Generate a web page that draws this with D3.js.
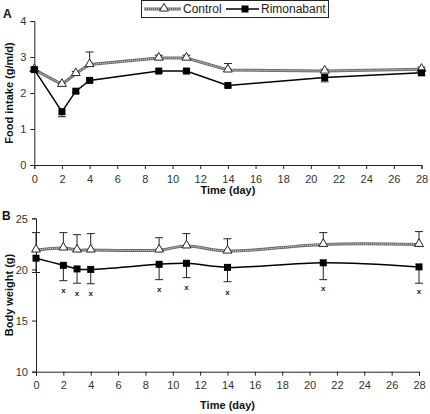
<!DOCTYPE html>
<html><head><meta charset="utf-8">
<script src="https://cdn.jsdelivr.net/npm/d3@7"></script>
<style>body{margin:0;background:#fff}svg{display:block}text{font-family:"Liberation Sans",Arial,sans-serif}</style>
</head><body>
<svg id="c" width="430" height="414"></svg>
<script>
const days = [0, 2, 3, 4, 9, 11, 14, 21, 28];
const xTicks = [0,2,4,6,8,10,12,14,16,18,20,22,24,26,28];
// Panel A: food intake (g/m/d)
const foodControl = [2.65, 2.24, 2.54, 2.79, 2.97, 2.97, 2.64, 2.61, 2.66];
const foodControlUp = [2.70, 2.30, 2.60, 3.14, 3.05, 3.05, 2.82, 2.66, 2.72];
const foodRimo = [2.65, 1.48, 2.05, 2.35, 2.61, 2.61, 2.21, 2.43, 2.56];
const foodRimoLow = [2.60, 1.34, 2.00, 2.30, 2.57, 2.57, 2.17, 2.31, 2.50];
const foodTicks = [0, 1, 2, 3, 4];
// Panel B: body weight (g)
const bwControl = [21.9, 22.1, 21.9, 21.9, 21.9, 22.3, 21.8, 22.45, 22.45];
const bwControlUp = [23.6, 23.6, 23.4, 23.5, 23.1, 23.5, 23.0, 23.6, 23.7];
const bwRimo = [21.1, 20.4, 20.05, 20.0, 20.5, 20.6, 20.2, 20.65, 20.25];
const bwRimoLow = [19.7, 18.9, 18.65, 18.6, 19.0, 19.2, 18.8, 19.0, 18.65];
const sigDays = [2, 3, 4, 9, 11, 14, 21, 28];
const sigPos = [17.9, 17.6, 17.6, 18.0, 18.2, 17.7, 18.15, 17.8];
const bwTicks = [10, 15, 20, 25];
const seriesNames = ["Control", "Rimonabant"];

const svg = d3.select("#c");

function panel(o) {
  const x = d3.scaleLinear().domain([0, 28]).range(o.xr);
  const y = d3.scaleLinear().domain(o.yd).range(o.yr);
  const g = svg.append("g");
  const ax = g.append("g").attr("transform", `translate(0,${o.yr[0]})`)
    .call(d3.axisBottom(x).tickValues(xTicks).tickSize(4).tickPadding(6).tickFormat(d3.format("d")));
  const ay = g.append("g").attr("transform", `translate(${o.xr[0]},0)`)
    .call(d3.axisLeft(y).tickValues(o.yticks).tickSize(4).tickPadding(4).tickFormat(d3.format("d")));
  [ax, ay].forEach(a => {
    a.select(".domain").attr("stroke", "#222").attr("stroke-width", 1);
    a.selectAll(".tick line").attr("stroke", "#222");
    a.selectAll(".tick text").attr("fill", "#333").style("font-size", "11px");
  });
  ay.selectAll(".tick text").attr("dy", "0.35em");
  const curve = o.smooth ? d3.curveCatmullRom : d3.curveLinear;
  const line = d3.line().x((d, i) => x(days[i])).y(d => y(d)).curve(curve);
  const cap = 4;
  function errs(vals, ends) {
    vals.forEach((v, i) => {
      const cx = x(days[i]);
      g.append("line").attr("x1", cx).attr("x2", cx).attr("y1", y(v)).attr("y2", y(ends[i])).attr("stroke", "#222").attr("stroke-width", 1);
      g.append("line").attr("x1", cx - cap).attr("x2", cx + cap).attr("y1", y(ends[i])).attr("y2", y(ends[i])).attr("stroke", "#222").attr("stroke-width", 1);
    });
  }
  errs(o.ctrl, o.ctrlUp);
  errs(o.rimo, o.rimoLow);
  g.append("path").attr("d", line(o.ctrl)).attr("fill", "none").attr("stroke", "#6e6e6e").attr("stroke-width", 3);
  g.append("path").attr("d", line(o.ctrl)).attr("fill", "none").attr("stroke", "#d8d8d8").attr("stroke-width", 1).attr("stroke-dasharray", "1,1");
  g.append("path").attr("d", line(o.rimo)).attr("fill", "none").attr("stroke", "#000").attr("stroke-width", 1.5);
  const tri = d3.symbol().type(d3.symbolTriangle).size(34);
  o.ctrl.forEach((v, i) => {
    g.append("path").attr("d", tri()).attr("transform", `translate(${x(days[i])},${y(v) - 0.5})`)
      .attr("fill", "#fff").attr("stroke", "#222").attr("stroke-width", 1);
  });
  o.rimo.forEach((v, i) => {
    g.append("rect").attr("x", x(days[i]) - 3.5).attr("y", y(v) - 3.5).attr("width", 7).attr("height", 7).attr("fill", "#000");
  });
  if (o.sig) {
    sigDays.forEach((d, i) => {
      g.append("text").attr("x", x(d)).attr("y", y(sigPos[i])).attr("dy", "0.3em").attr("text-anchor", "middle")
        .style("font-size", "8px").style("font-weight", "bold").attr("fill", "#222").text("x");
    });
  }
  g.append("text").attr("x", (o.xr[0] + o.xr[1]) / 2).attr("y", o.titleY).attr("text-anchor", "middle")
    .style("font-size", "11px").style("font-weight", "bold").attr("fill", "#111").text("Time (day)");
  g.append("text").attr("transform", `translate(13,${(o.yr[0] + o.yr[1]) / 2}) rotate(-90)`).attr("text-anchor", "middle")
    .style("font-size", "11px").style("font-weight", "bold").attr("fill", "#111").text(o.ytitle);
  g.append("text").attr("x", o.lab[0]).attr("y", o.lab[1]).style("font-size", "12px").style("font-weight", "bold").attr("fill", "#111").text(o.label);
}

panel({xr: [34.3, 421.5], yd: [0, 4], yr: [165, 21], yticks: foodTicks, ctrl: foodControl, ctrlUp: foodControlUp,
  rimo: foodRimo, rimoLow: foodRimoLow, smooth: false, sig: false, titleY: 194, ytitle: "Food intake (g/m/d)", label: "A", lab: [3, 18]});
panel({xr: [36, 419], yd: [10, 25], yr: [371.7, 218.3], yticks: bwTicks, ctrl: bwControl, ctrlUp: bwControlUp,
  rimo: bwRimo, rimoLow: bwRimoLow, smooth: true, sig: true, titleY: 409, ytitle: "Body weight (g)", label: "B", lab: [2, 220]});

const lg = svg.append("g");
lg.append("rect").attr("x", 141.5).attr("y", 0.5).attr("width", 187).attr("height", 17).attr("fill", "#fff").attr("stroke", "#222").attr("stroke-width", 1);
lg.append("line").attr("x1", 144).attr("x2", 181).attr("y1", 9).attr("y2", 9).attr("stroke", "#6e6e6e").attr("stroke-width", 3);
lg.append("line").attr("x1", 144).attr("x2", 181).attr("y1", 9).attr("y2", 9).attr("stroke", "#d8d8d8").attr("stroke-width", 1).attr("stroke-dasharray", "1,1");
lg.append("path").attr("d", d3.symbol().type(d3.symbolTriangle).size(34)()).attr("transform", "translate(164,8.5)").attr("fill", "#fff").attr("stroke", "#222");
lg.append("text").attr("x", 183).attr("y", 13).style("font-size", "12px").attr("fill", "#222").text(seriesNames[0]);
lg.append("line").attr("x1", 226).attr("x2", 259).attr("y1", 9).attr("y2", 9).attr("stroke", "#000").attr("stroke-width", 1.5);
lg.append("rect").attr("x", 241.5).attr("y", 5.5).attr("width", 7).attr("height", 7).attr("fill", "#000");
lg.append("text").attr("x", 261).attr("y", 13).style("font-size", "12px").attr("fill", "#222").text(seriesNames[1]);
</script>
</body></html>
